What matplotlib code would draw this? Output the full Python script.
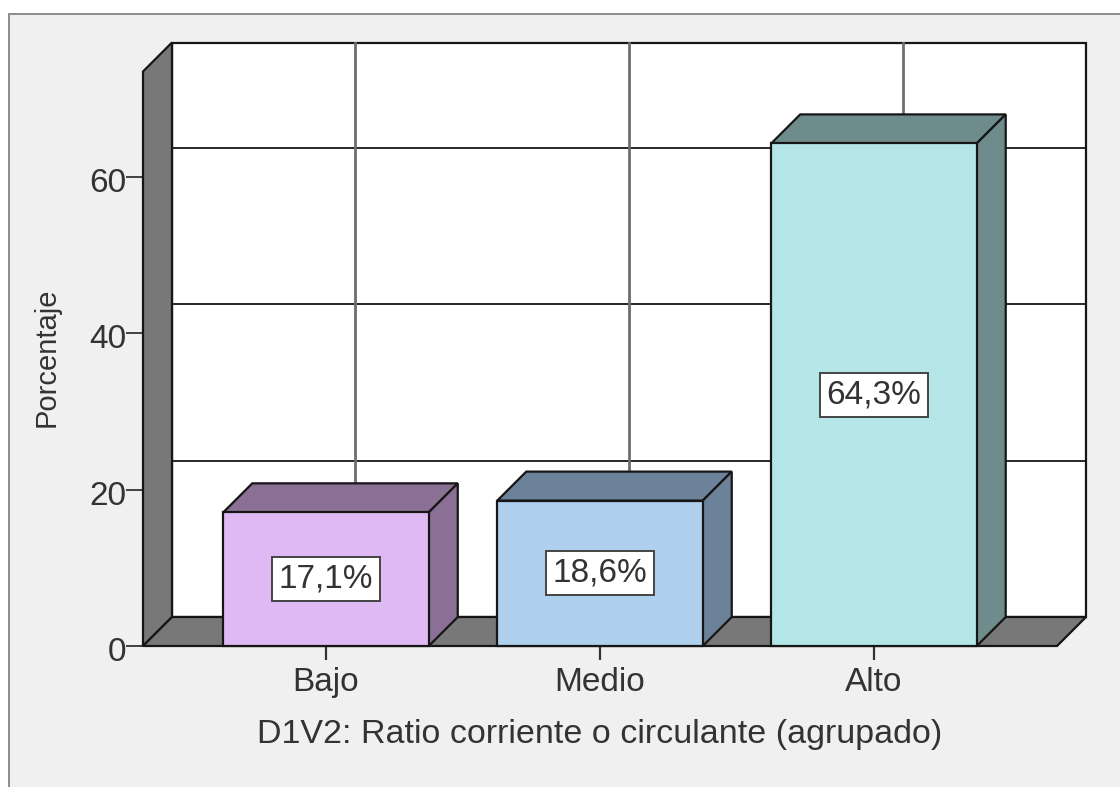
"""Percent bar chart with the old 3D box look, drawn on plain 2D axes."""

import matplotlib

matplotlib.use("Agg")
import matplotlib.pyplot as plt
from matplotlib.patches import Polygon, Rectangle
from matplotlib.transforms import ScaledTranslation

plt.rcParams["font.family"] = ["Liberation Sans", "DejaVu Sans"]

categories = ["Bajo", "Medio", "Alto"]
percentages = [17.1, 18.6, 64.3]
value_labels = ["17,1%", "18,6%", "64,3%"]
front_colors = ["#dfb9f3", "#afcfee", "#b5e6e7"]
shade_colors = ["#8a7094", "#6b8299", "#6f8c8d"]
y_ticks = [0, 20, 40, 60]

W, H = 1120, 787
LEFT, RIGHT, BOTTOM, TOP = 143, 1057, 646, 71.5
DEPTH_X = 29 / 274
DEPTH_Y = 29 / 7.817
BAR_W = 0.75
X_MIN, X_MAX = -0.668, 2.668
Y_MAX = 73.5
WALL_TOP = Y_MAX + DEPTH_Y
EDGE = "#161616"
TEXT = "#333333"

fig = plt.figure(figsize=(W / 100, H / 100), dpi=100, facecolor="white")

# gray panel behind the chart, runs off the right and bottom edges
fig.add_artist(Rectangle((8.5 / W, -0.01), 1.1, 1.01 - 14 / H, transform=fig.transFigure,
                         facecolor="#f0f0f0", edgecolor="#8c8c8c", linewidth=1.4, zorder=-1))

ax = fig.add_axes([LEFT / W, 1 - BOTTOM / H, (RIGHT - LEFT) / W, (BOTTOM - TOP) / H])
ax.set_xlim(X_MIN, X_MAX)
ax.set_ylim(0, Y_MAX)
ax.patch.set_visible(False)
for spine in ax.spines.values():
    spine.set_visible(False)


def poly(points, face, z):
    ax.add_patch(Polygon(points, closed=True, facecolor=face, edgecolor=EDGE,
                         linewidth=1.6, joinstyle="miter", clip_on=False, zorder=z))


# back wall, left wall, floor
back_l, back_r = X_MIN + DEPTH_X, X_MAX + DEPTH_X
poly([(back_l, DEPTH_Y), (back_r, DEPTH_Y), (back_r, WALL_TOP), (back_l, WALL_TOP)], "white", 1)
poly([(X_MIN, 0), (back_l, DEPTH_Y), (back_l, WALL_TOP), (X_MIN, Y_MAX)], "#787878", 2)
poly([(X_MIN, 0), (X_MAX, 0), (back_r, DEPTH_Y), (back_l, DEPTH_Y)], "#787878", 2)

# grid on the back wall
for tick in y_ticks[1:]:
    ax.plot([back_l, back_r], [tick + DEPTH_Y] * 2, color=EDGE, lw=1.3, clip_on=False, zorder=1.5)
for i in range(len(categories)):
    ax.plot([i + DEPTH_X] * 2, [DEPTH_Y, WALL_TOP], color="#6e6e6e", lw=2.0, clip_on=False, zorder=1.5)

# boxes
for i, value in enumerate(percentages):
    x0, x1 = i - BAR_W / 2, i + BAR_W / 2
    ax.bar(i, value, width=BAR_W, color=front_colors[i], edgecolor=EDGE, linewidth=1.6,
           clip_on=False, zorder=4)
    poly([(x0, value), (x1, value), (x1 + DEPTH_X, value + DEPTH_Y), (x0 + DEPTH_X, value + DEPTH_Y)],
         shade_colors[i], 3)
    poly([(x1, 0), (x1 + DEPTH_X, DEPTH_Y), (x1 + DEPTH_X, value + DEPTH_Y), (x1, value)],
         shade_colors[i], 3)
    ax.text(i, value / 2, value_labels[i], ha="center", va="center", fontsize=24, color=TEXT,
            zorder=6, bbox=dict(boxstyle="square,pad=0.2", facecolor="white",
                                edgecolor="#444444", linewidth=1.4))

ax.set_xticks(range(len(categories)), categories)
ax.set_yticks(y_ticks)
ax.tick_params(axis="y", length=12, width=1.3, color="#333333", labelsize=24, labelcolor=TEXT, pad=0)
ax.tick_params(axis="x", length=10, width=1.6, color="#333333", labelsize=24, labelcolor=TEXT, pad=5)
# y numbers sit a little under their ticks
nudge = ScaledTranslation(0, -3 / 100, fig.dpi_scale_trans)
for label in ax.get_yticklabels():
    label.set_transform(label.get_transform() + nudge)
ax.set_xlabel("D1V2: Ratio corriente o circulante (agrupado)", fontsize=24.5, color=TEXT)
ax.xaxis.set_label_coords((600 - LEFT) / (RIGHT - LEFT), (BOTTOM - 734) / (BOTTOM - TOP), transform=ax.transAxes)
ax.xaxis.label.set_verticalalignment("center")
ax.set_ylabel("Porcentaje", fontsize=21, color=TEXT)
ax.yaxis.set_label_coords((47 - LEFT) / (RIGHT - LEFT), (BOTTOM - 357) / (BOTTOM - TOP), transform=ax.transAxes)
ax.yaxis.label.set_verticalalignment("center")

fig.savefig("out.png", dpi=100)
